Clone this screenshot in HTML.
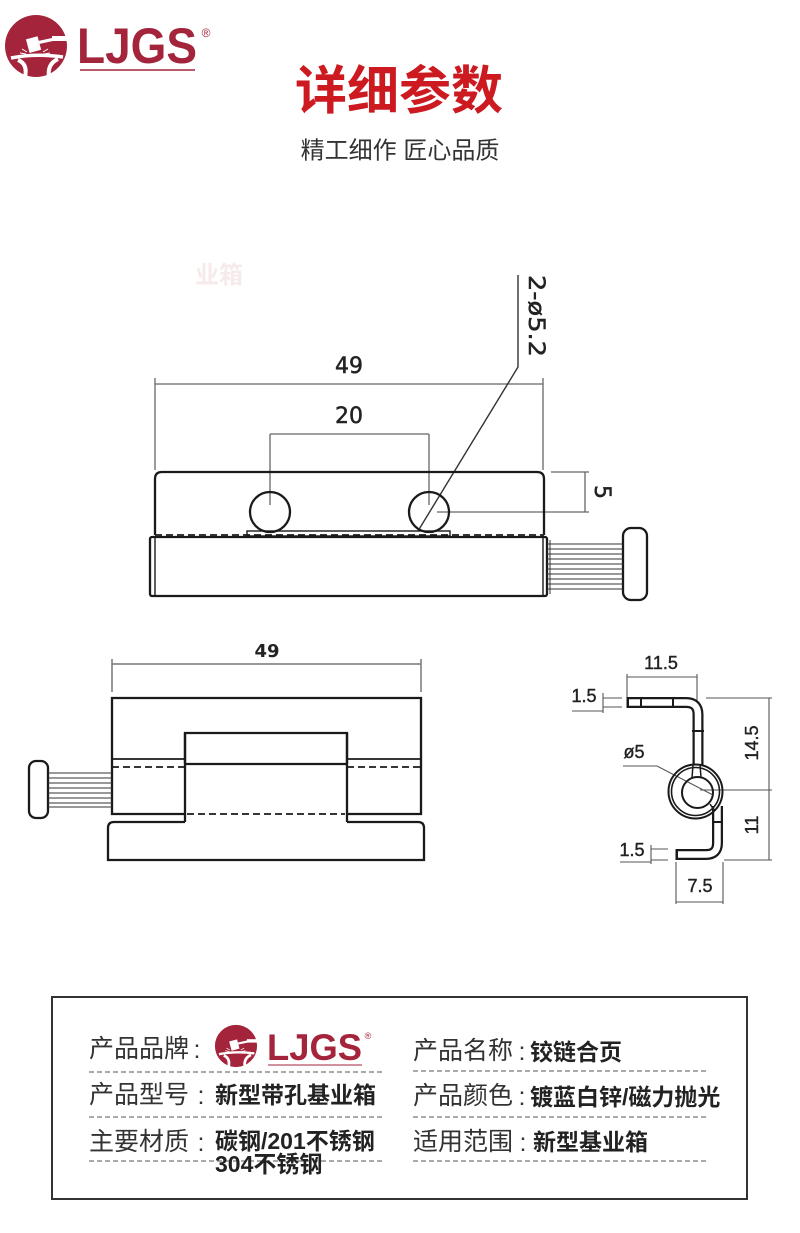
<!DOCTYPE html>
<html><head><meta charset="utf-8">
<style>html,body{margin:0;padding:0;background:#fff;}svg{display:block}</style></head>
<body>
<svg width="800" height="1233" viewBox="0 0 800 1233" xmlns="http://www.w3.org/2000/svg">
<rect width="800" height="1233" fill="#fff"/>
<defs>
<g id="mark">
 <circle cx="0" cy="0" r="31" fill="#a3243b"/>
 <rect x="16" y="-10" width="18" height="5" fill="#fff"/>
 <rect x="-8" y="-9" width="12" height="14" fill="#fff" transform="rotate(-15)"/>
 <path d="M2,-5 L16,-8 L17,-5 L3,-2 Z" fill="#fff"/>
 <path d="M-25,12 Q0,7 27,11" stroke="#fff" stroke-width="3.5" fill="none"/>
 <path d="M-18,14 Q-8,18 -11,31" stroke="#fff" stroke-width="4" fill="none"/>
 <path d="M22,13 Q11,18 13,31" stroke="#fff" stroke-width="4" fill="none"/>
 <path d="M-14,3 l5,3 M-16,7 l6,1 M12,3 l-5,3 M14,7 l-6,1" stroke="#fff" stroke-width="1"/>
</g>
</defs>

<!-- top logo -->
<use href="#mark" transform="translate(36,46)"/>
<text x="77" y="63" font-family="Liberation Sans, sans-serif" font-weight="bold" font-size="50" fill="#a3243b" textLength="120" lengthAdjust="spacingAndGlyphs">LJGS</text>
<line x1="80" y1="70" x2="195" y2="70" stroke="#a3243b" stroke-width="1.5"/>
<text x="206" y="37" font-family="Liberation Sans, sans-serif" font-size="12" fill="#a3243b" text-anchor="middle">®</text>

<!-- title -->
<text x="399" y="92" dominant-baseline="central" text-anchor="middle" font-family="Liberation Sans, 'Noto Sans CJK SC', sans-serif" font-weight="bold" font-size="52" fill="#cc1a20">详细参数</text>
<text x="400" y="151" dominant-baseline="central" text-anchor="middle" font-family="Liberation Sans, 'Noto Sans CJK SC', sans-serif" font-size="24" fill="#333">精工细作 匠心品质</text>

<!-- faint watermark -->
<text x="243" y="283" text-anchor="end" font-family="Liberation Sans, 'Noto Sans CJK SC', sans-serif" font-weight="bold" font-size="24" fill="#f6eaea">业箱</text>

<!-- ===== TOP DRAWING ===== -->
<g stroke="#666" stroke-width="1.3" fill="none">
 <line x1="155" y1="384" x2="543" y2="384"/>
 <line x1="155" y1="378" x2="155" y2="470"/>
 <line x1="543" y1="378" x2="543" y2="470"/>
 <line x1="270" y1="434" x2="429" y2="434"/>
 <line x1="270" y1="434" x2="270" y2="505"/>
 <line x1="429" y1="434" x2="429" y2="505"/>
 <line x1="551" y1="472" x2="589" y2="472"/>
 <line x1="437" y1="512" x2="589" y2="512"/>
 <line x1="585" y1="472" x2="585" y2="512"/>
</g>
<polyline points="518,275 518,367 418,531" stroke="#333" stroke-width="1.4" fill="none"/>
<g font-family="DejaVu Sans, sans-serif" font-size="22" fill="#222" stroke="#222" stroke-width="0.5" text-anchor="middle">
 <text x="349" y="373">49</text>
 <text x="349" y="423">20</text>
 <text transform="translate(529,316) rotate(90)" textLength="82" lengthAdjust="spacingAndGlyphs">2-ø5.2</text>
 <text transform="translate(595,492) rotate(90)">5</text>
</g>
<g stroke="#1a1a1a" stroke-width="2.3" fill="none">
 <path d="M155,535 V479 Q155,472 162,472 H537 Q544,472 544,479 V535"/>
 <circle cx="270" cy="512" r="20"/>
 <circle cx="429" cy="512" r="20"/>
 <rect x="150" y="537" width="397" height="59" rx="2"/>
 <line x1="155" y1="538" x2="155" y2="596" stroke-width="1.4"/>
 <line x1="543" y1="538" x2="543" y2="596" stroke-width="1.4"/>
 <line x1="155" y1="535" x2="544" y2="535" stroke-dasharray="7 4" stroke-width="1.8"/>
 <rect x="247" y="531" width="203" height="5" stroke-width="1.4"/>
 <rect x="623" y="528" width="24" height="72" rx="8"/>
</g>
<g stroke="#333" stroke-width="1">
 <line x1="547" y1="544" x2="623" y2="544"/>
 <line x1="547" y1="549" x2="623" y2="549"/>
 <line x1="547" y1="554" x2="623" y2="554"/>
 <line x1="547" y1="559" x2="623" y2="559"/>
 <line x1="547" y1="564" x2="623" y2="564"/>
 <line x1="547" y1="569" x2="623" y2="569"/>
 <line x1="547" y1="574" x2="623" y2="574"/>
 <line x1="547" y1="579" x2="623" y2="579"/>
 <line x1="547" y1="584" x2="623" y2="584"/>
 <line x1="547" y1="589" x2="623" y2="589"/>
 <line x1="550" y1="540" x2="550" y2="594"/>
</g>

<!-- ===== BOTTOM-LEFT DRAWING ===== -->
<g stroke="#777" stroke-width="1.5" fill="none">
 <line x1="112" y1="664" x2="421" y2="664"/>
 <line x1="112" y1="659" x2="112" y2="692"/>
 <line x1="421" y1="659" x2="421" y2="692"/>
</g>
<text x="267" y="657" text-anchor="middle" font-family="DejaVu Sans, sans-serif" font-weight="bold" font-size="18" fill="#222">49</text>
<g stroke="#1a1a1a" stroke-width="2.3" fill="none">
 <path d="M185,814 H112 V698 H421 V814 H347"/>
 <path d="M185,764 V733 H347 V764"/>
 <line x1="185" y1="764" x2="347" y2="764"/>
 <line x1="185" y1="733" x2="185" y2="822"/>
 <line x1="347" y1="733" x2="347" y2="822"/>
 <line x1="112" y1="759" x2="185" y2="759" stroke-width="1.8"/>
 <line x1="347" y1="759" x2="421" y2="759" stroke-width="1.8"/>
 <line x1="112" y1="767" x2="185" y2="767" stroke-dasharray="7 4" stroke-width="1.8"/>
 <line x1="347" y1="767" x2="421" y2="767" stroke-dasharray="7 4" stroke-width="1.8"/>
 <line x1="187" y1="814" x2="345" y2="814" stroke-dasharray="7 4" stroke-width="1.8"/>
 <path d="M185,822 H114 Q108,822 108,828 V860 H424 V828 Q424,822 418,822 H347"/>
 <rect x="29" y="761" width="19" height="57" rx="7"/>
</g>
<g stroke="#333" stroke-width="1">
 <line x1="48" y1="773" x2="112" y2="773"/>
 <line x1="48" y1="778" x2="112" y2="778"/>
 <line x1="48" y1="783" x2="112" y2="783"/>
 <line x1="48" y1="788" x2="112" y2="788"/>
 <line x1="48" y1="793" x2="112" y2="793"/>
 <line x1="48" y1="798" x2="112" y2="798"/>
 <line x1="48" y1="803" x2="112" y2="803"/>
 <line x1="48" y1="807" x2="112" y2="807"/>
</g>

<!-- ===== RIGHT PROFILE ===== -->
<g stroke="#555" stroke-width="1.1" fill="none">
 <line x1="627" y1="677" x2="697" y2="677"/>
 <line x1="627" y1="674" x2="627" y2="697"/>
 <line x1="697" y1="674" x2="697" y2="767"/>
 <line x1="706" y1="698" x2="772" y2="698"/>
 <line x1="700" y1="790" x2="772" y2="790"/>
 <line x1="724" y1="860" x2="772" y2="860"/>
 <line x1="769" y1="698" x2="769" y2="860"/>
 <line x1="603" y1="698" x2="622" y2="698"/>
 <line x1="603" y1="707" x2="622" y2="707"/>
 <line x1="603" y1="693" x2="603" y2="713"/>
 <line x1="572" y1="711" x2="603" y2="711"/>
 <line x1="651" y1="849" x2="668" y2="849"/>
 <line x1="651" y1="860" x2="668" y2="860"/>
 <line x1="651" y1="845" x2="651" y2="864"/>
 <line x1="620" y1="862" x2="651" y2="862"/>
 <line x1="676" y1="862" x2="676" y2="904"/>
 <line x1="723" y1="862" x2="723" y2="904"/>
 <line x1="676" y1="902" x2="723" y2="902"/>
 <polyline points="623,766 657,766 713,795"/>
</g>
<g fill="none">
 <path d="M627,702.5 H686 Q698,702.5 698,714.5 V765" stroke="#1a1a1a" stroke-width="11"/>
 <path d="M629,702.5 H686 Q698,702.5 698,714.5 V767" stroke="#fff" stroke-width="6.5"/>
 <path d="M717.5,806 V843 Q717.5,854.5 706,854.5 H676" stroke="#1a1a1a" stroke-width="11"/>
 <path d="M717.5,804 V843 Q717.5,854.5 706,854.5 H678" stroke="#fff" stroke-width="6.5"/>
 <g stroke="#1a1a1a" stroke-width="2">
  <line x1="627.5" y1="697" x2="627.5" y2="708"/>
  <line x1="676.5" y1="849" x2="676.5" y2="860"/>
  <line x1="641" y1="697" x2="641" y2="708"/>
  <line x1="673" y1="697" x2="673" y2="708"/>
  <line x1="692" y1="731" x2="704" y2="731"/>
  <line x1="712" y1="822" x2="723" y2="822"/>
 </g>
 <circle cx="695.5" cy="791.5" r="27" stroke="#1a1a1a" stroke-width="2"/>
 <circle cx="695.5" cy="791.5" r="24" stroke="#1a1a1a" stroke-width="1.6"/>
 <circle cx="697.5" cy="792.5" r="15.5" stroke="#1a1a1a" stroke-width="2"/>
 <line x1="693" y1="765" x2="692" y2="778" stroke="#1a1a1a" stroke-width="1.5"/>
 <line x1="700" y1="765" x2="701" y2="777" stroke="#1a1a1a" stroke-width="1.5"/>
 <line x1="710" y1="804" x2="714" y2="810" stroke="#1a1a1a" stroke-width="1.5"/>
</g>
<g font-family="Liberation Sans, sans-serif" font-size="18" fill="#222" stroke="#222" stroke-width="0.4" text-anchor="middle">
 <text x="661" y="669">11.5</text>
 <text x="584" y="702">1.5</text>
 <text x="634" y="758">ø5</text>
 <text x="632" y="856">1.5</text>
 <text x="700" y="892">7.5</text>
 <text transform="translate(758,743) rotate(-90)">14.5</text>
 <text transform="translate(758,825) rotate(-90)">11</text>
</g>

<!-- ===== TABLE ===== -->
<rect x="52" y="997" width="695" height="202" fill="none" stroke="#333" stroke-width="2"/>
<g stroke="#555" stroke-width="1" stroke-dasharray="5 3">
 <line x1="89" y1="1072" x2="385" y2="1072"/>
 <line x1="89" y1="1117" x2="385" y2="1117"/>
 <line x1="89" y1="1161" x2="385" y2="1161"/>
 <line x1="413" y1="1071" x2="708" y2="1071"/>
 <line x1="413" y1="1117" x2="708" y2="1117"/>
 <line x1="413" y1="1161" x2="708" y2="1161"/>
</g>
<g font-family="Liberation Sans, 'Noto Sans CJK SC', sans-serif" font-size="25" fill="#333" dominant-baseline="central">
 <text x="89" y="1049">产品品牌</text>
 <text x="89" y="1095">产品型号</text>
 <text x="89" y="1142">主要材质</text>
 <text x="413" y="1051">产品名称</text>
 <text x="413" y="1096">产品颜色</text>
 <text x="413" y="1142">适用范围</text>
 <text x="197" y="1050" text-anchor="middle">:</text>
 <text x="201" y="1096" text-anchor="middle">:</text>
 <text x="201" y="1143" text-anchor="middle">:</text>
 <text x="522" y="1052" text-anchor="middle">:</text>
 <text x="522" y="1097" text-anchor="middle">:</text>
 <text x="523" y="1143" text-anchor="middle">:</text>
</g>
<g font-family="Liberation Sans, 'Noto Sans CJK SC', sans-serif" font-size="23" font-weight="bold" fill="#222" dominant-baseline="central">
 <text x="215" y="1095">新型带孔基业箱</text>
 <text x="215" y="1141">碳钢/201不锈钢</text>
 <text x="215" y="1164">304不锈钢</text>
 <text x="530" y="1052">铰链合页</text>
 <text x="530" y="1097">镀蓝白锌/磁力抛光</text>
 <text x="533" y="1142">新型基业箱</text>
</g>
<use href="#mark" transform="translate(236,1046) scale(0.68)"/>
<text x="267" y="1060" font-family="Liberation Sans, sans-serif" font-weight="bold" font-size="37" fill="#a3243b" textLength="95" lengthAdjust="spacingAndGlyphs">LJGS</text>
<line x1="268" y1="1065" x2="362" y2="1065" stroke="#a3243b" stroke-width="1"/>
<text x="368" y="1039" font-family="Liberation Sans, sans-serif" font-size="9" fill="#a3243b" text-anchor="middle">®</text>
</svg>
</body></html>
